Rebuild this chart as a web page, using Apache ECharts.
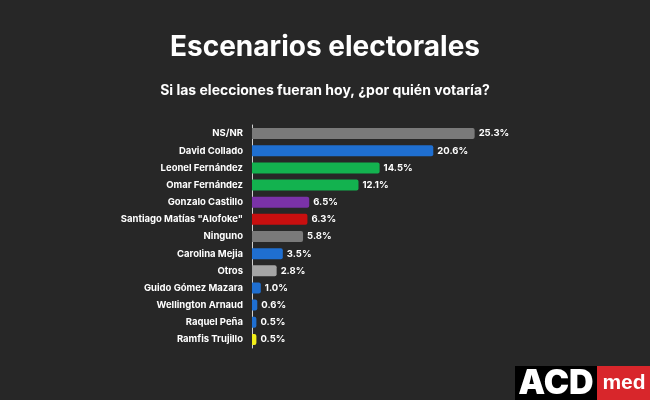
<!DOCTYPE html>
<html><head><meta charset="utf-8">
<script src="https://cdn.jsdelivr.net/npm/echarts@6/dist/echarts.min.js"></script>
<style>html,body{margin:0;padding:0;background:#272727;}#c{width:650px;height:400px;}</style>
</head><body><div id="c"></div>
<script>
const categories = ["NS/NR","David Collado","Leonel Fernández","Omar Fernández","Gonzalo Castillo","Santiago Matías \"Alofoke\"","Ninguno","Carolina Mejia","Otros","Guido Gómez Mazara","Wellington Arnaud","Raquel Peña","Ramfis Trujillo"];
const values = [25.3,20.6,14.5,12.1,6.5,6.3,5.8,3.5,2.8,1.0,0.6,0.5,0.5];
const colors = ["#7a7a7a","#1f6fd1","#13b24f","#13b24f","#7a32a8","#c80f0f","#7a7a7a","#1f6fd1","#a5a5a5","#1f6fd1","#1f6fd1","#1f6fd1","#f2ee1a"];

const chart = echarts.init(document.getElementById('c'));
chart.setOption({
  backgroundColor: '#272727',
  title: [
    {text: 'Escenarios electorales', left: 'center', top: 29,
     textStyle: {color: '#fff', fontSize: 28, fontWeight: 'bold', fontFamily: 'Inter'}},
    {text: 'Si las elecciones fueran hoy, ¿por quién votaría?', left: 'center', top: 79,
     textStyle: {color: '#fff', fontSize: 14, fontWeight: 'bold', fontFamily: 'Inter'}}
  ],
  grid: {left: 252, right: 134, top: 125, height: 223, containLabel: false},
  xAxis: {type: 'value', min: 0, max: 30, show: false},
  yAxis: {
    type: 'category', data: categories, inverse: true,
    axisLine: {show: true, lineStyle: {color: '#d0d0d0', width: 1}},
    axisTick: {show: false},
    axisLabel: {color: '#fff', fontSize: 9.5, fontWeight: 'bold', fontFamily: 'Inter', margin: 9}
  },
  series: [{
    type: 'bar', data: values.map((v, i) => ({value: v, itemStyle: {color: colors[i]}})),
    barWidth: 11,
    itemStyle: {borderRadius: [0, 2, 2, 0]},
    label: {show: true, position: 'right', distance: 4, color: '#fff', fontSize: 9.5,
            fontWeight: 'bold', fontFamily: 'Inter', formatter: p => p.value.toFixed(1) + '%'}
  }],
  graphic: [
    {type: 'rect', shape: {x: 515, y: 366, width: 82, height: 34}, style: {fill: '#000'}},
    {type: 'rect', shape: {x: 597, y: 366, width: 53, height: 34}, style: {fill: '#d8262b'}},
    {type: 'text', x: 556, y: 384, style: {text: 'ACD', fill: '#fff', font: '900 34px Inter, Arial', align: 'center', verticalAlign: 'middle'}},
    {type: 'text', x: 624, y: 383, style: {text: 'med', fill: '#fff', font: 'bold 21px Arial, Liberation Sans', align: 'center', verticalAlign: 'middle'}}
  ]
});
</script></body></html>
